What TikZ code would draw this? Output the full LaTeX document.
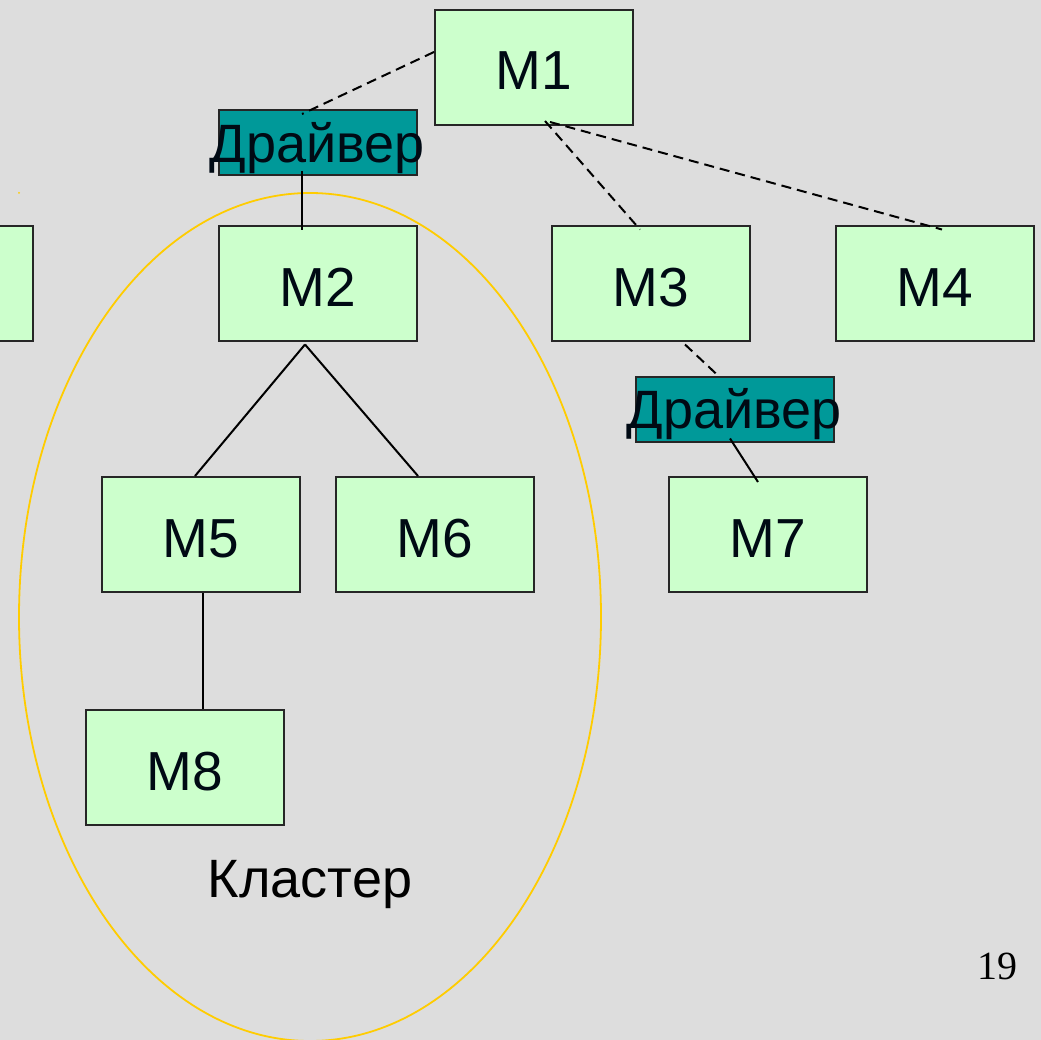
\documentclass[tikz,border=0pt]{standalone}
\usepackage{fontspec}
\setmainfont{Liberation Sans}
\newfontfamily\numfont{Liberation Serif}
\definecolor{bg}{HTML}{DDDDDD}
\definecolor{boxfill}{HTML}{CCFFCC}
\definecolor{drvfill}{HTML}{009999}
\definecolor{txt}{HTML}{000A14}
\definecolor{clus}{HTML}{FFCC00}
\begin{document}
\begin{tikzpicture}[x=1pt,y=-1pt,
  mbox/.style={draw=black!85,line width=2pt,fill=boxfill,minimum width=198pt,minimum height=115pt,inner sep=0pt,text height=45pt,text depth=0pt,text=txt,font=\fontsize{55}{55}\selectfont},
  drvbox/.style={draw=black!85,line width=2pt,fill=drvfill,minimum width=198pt,minimum height=65pt,inner sep=0pt},
  drvtext/.style={inner sep=0pt,text=txt,font=\fontsize{54}{54}\selectfont},
  dline/.style={draw=black,line width=2pt,dash pattern=on 10pt off 6pt},
  sline/.style={draw=black,line width=2pt}]
\useasboundingbox (0,0) rectangle (1041,1040);
\clip (0,0) rectangle (1041,1040);
\fill[bg] (0,0) rectangle (1041,1040);
% cluster ellipse
\draw[clus,line width=1.8pt] (310,617) ellipse [x radius=291pt, y radius=424pt];
\fill[clus] (19,193) circle [radius=1pt];
% boxes
\node[mbox] (m1) at (534,67.5) {M1};
\node[drvbox] (d1) at (318,142.5) {};
\node[drvtext] (d1t) at (317,148) {Драйвер};
\node[mbox] (m0) at (-66,284) {};
\node[mbox] (m2) at (317.5,284) {M2};
\node[mbox] (m3) at (650.5,284) {M3};
\node[mbox] (m4) at (934.5,284) {M4};
\node[drvbox] (d2) at (734.5,409) {};
\node[drvtext] (d2t) at (734,414) {Драйвер};
\node[mbox] (m5) at (201,534.5) {M5};
\node[mbox] (m6) at (434.5,534.5) {M6};
\node[mbox] (m7) at (768,534.5) {M7};
\node[mbox] (m8) at (184.5,767.5) {M8};
\node[inner sep=0pt,text=black,font=\fontsize{54}{54}\selectfont] (cl) at (310,885) {Кластер};
\node[inner sep=0pt,text=black,font=\numfont\fontsize{40}{40}\selectfont] (pg) at (997,966) {19};
% connectors
\draw[dline] ([yshift=15.5pt]m1.west) -- ([xshift=-16pt,yshift=-5pt]d1.north);
\draw[sline] ([xshift=-16pt,yshift=5pt]d1.south) -- ([xshift=-15.5pt,yshift=-5pt]m2.north);
\draw[sline] ([xshift=-12.5pt,yshift=-2pt]m2.south) -- ([xshift=-6pt]m5.north);
\draw[sline] ([xshift=-12.5pt,yshift=-2pt]m2.south) -- ([xshift=-16.5pt]m6.north);
\draw[sline] ([xshift=2pt]m5.south) -- ([xshift=18.5pt]m8.north);
\draw[dline] ([xshift=11pt,yshift=5pt]m1.south) -- ([xshift=-10.5pt,yshift=-4pt]m3.north);
\draw[dline] ([xshift=16pt,yshift=4pt]m1.south) -- ([xshift=7.5pt,yshift=-4pt]m4.north);
\draw[dline] ([xshift=34.5pt,yshift=-2pt]m3.south) -- ([xshift=-16.5pt]d2.north);
\draw[sline] ([xshift=-4.5pt,yshift=4pt]d2.south) -- ([xshift=-10pt,yshift=-6pt]m7.north);
\end{tikzpicture}
\end{document}
